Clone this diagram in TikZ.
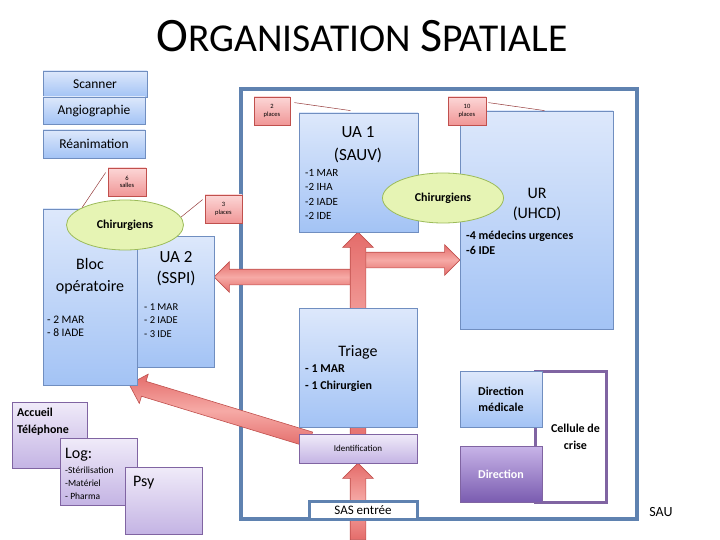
\documentclass[tikz,border=0pt]{standalone}
\usepackage{fontspec}
\setmainfont{Carlito}
\usetikzlibrary{shapes.geometric,shapes.arrows,calc,backgrounds}

\definecolor{boxtop}{RGB}{221,232,251}
\definecolor{boxbot}{RGB}{163,195,245}
\definecolor{boxline}{RGB}{112,142,192}
\definecolor{sauline}{RGB}{95,130,176}
\definecolor{tagtop}{RGB}{252,214,214}
\definecolor{tagbot}{RGB}{240,150,150}
\definecolor{tagline}{RGB}{192,80,77}
\definecolor{tagpointer}{RGB}{150,60,60}
\definecolor{chirfill}{RGB}{230,244,180}
\definecolor{chirline}{RGB}{155,187,89}
\definecolor{lavtop}{RGB}{240,235,249}
\definecolor{lavbot}{RGB}{196,180,228}
\definecolor{lavline}{RGB}{128,100,162}
\definecolor{dirtop}{RGB}{200,180,232}
\definecolor{dirbot}{RGB}{122,92,176}
\definecolor{arrowfill}{RGB}{228,108,106}
\definecolor{arrowlight}{RGB}{246,170,166}
\definecolor{arrowline}{RGB}{192,80,77}

\newcommand{\fsz}[2]{\fontsize{#1}{#2}\selectfont}
% fat arrow from node to node
\newcommand{\fatarrow}[3]{%
  \path let \p1=($(#3)-(#2)$), \n1={atan2(\y1,\x1)}, \n2={veclen(\x1,\y1)} in
    node[fatarrow,anchor=tail,rotate=\n1,minimum height=\n2] (#1) at (#2) {};}

\begin{document}
\begin{tikzpicture}[x=1pt,y=-1pt]
  \tikzstyle{bluebox}=[draw=boxline,top color=boxtop,bottom color=boxbot,line width=0.8pt]
  \tikzstyle{redtag}=[draw=tagline,top color=tagtop,bottom color=tagbot,line width=0.8pt,align=center,inner sep=0pt,font=\fsz{6.5}{7.5}]
  \tikzstyle{chir}=[ellipse,draw=chirline,fill=chirfill,line width=0.8pt,inner sep=0pt,font=\fsz{12}{14}\bfseries]
  \tikzstyle{lavbox}=[draw=lavline,top color=lavtop,bottom color=lavbot,line width=0.8pt]
  \tikzstyle{txt}=[inner sep=0pt,align=left]
  \tikzstyle{fatarrow}=[single arrow,draw=arrowline,top color=arrowfill,bottom color=arrowfill,middle color=arrowlight,inner xsep=0pt,inner ysep=7.5pt,single arrow head extend=7.5pt,line width=0.6pt]
  \useasboundingbox (0,0) rectangle (720,540);

  % title
  \node[inner sep=0pt] (title) at (362,36) {\fsz{48}{48}O\fsz{39.5}{40}RGANISATION \fsz{48}{48}S\fsz{39.5}{40}PATIALE};

  % imagerie, reanimation
  \node[bluebox,minimum width=104,minimum height=26,font=\fsz{13.5}{15}] (scanner) at (95,84) {Scanner};
  \node[bluebox,minimum width=102,minimum height=27,font=\fsz{13.5}{15}] (angio) at (94,110.5) {Angiographie};
  \node[bluebox,minimum width=102,minimum height=28,font=\fsz{13.5}{15}] (reanim) at (94,144) {Réanimation};

  % bloc
  \node[bluebox,minimum width=94,minimum height=176] (bloc) at (90,297) {};
  \node[bluebox,minimum width=77,minimum height=131] (ua2) at (175.5,301.5) {};
  \node[txt,align=center,font=\fsz{16}{22}] (bloctitle) at (90,276) {Bloc\\opératoire};
  \node[txt,anchor=west,font=\fsz{11.5}{13.5}] (bloclist) at (47,326.5) {- 2 MAR\\- 8 IADE};
  \node[txt,align=center,font=\fsz{17}{21}] (ua2title) at (176,268.5) {UA 2\\(SSPI)};
  \node[txt,anchor=west,font=\fsz{10.5}{13.5}] (ua2list) at (144,320.5) {- 1 MAR\\- 2 IADE\\- 3 IDE};
  \node[chir,minimum width=117,minimum height=50] (chirL) at (125,225) {Chirurgiens};
  \node[redtag,minimum width=38,minimum height=28] (tag6) at (127,182) {6\\salles};
  \node[redtag,minimum width=37,minimum height=28] (tag3) at (223.5,209) {3\\places};
  \draw[tagpointer,line width=0.5pt] ($(tag6.north west)+(-2,5)$) -- (chirL.158);
  \draw[tagpointer,line width=0.5pt] ($(tag3.north west)+(-2,5)$) -- (chirL.8);

  % SAU
  \node[inner sep=0pt,font=\fsz{14}{16}] (saulabel) at (661,512) {SAU};
  \node[bluebox,minimum width=119,minimum height=119] (ua1) at (358.5,172.5) {};
  \node[txt,align=center,font=\fsz{17}{23}] (ua1title) at (358,144.5) {UA 1\\(SAUV)};
  \node[txt,anchor=west,font=\fsz{11}{14.5}] (ua1list) at (305,194.5) {-1 MAR\\-2 IHA\\-2 IADE\\-2 IDE};
  \node[bluebox,minimum width=153,minimum height=218] (ur) at (536.5,220) {};
  \node[txt,align=center,font=\fsz{16}{19.5}] (urtitle) at (537,204.5) {UR\\(UHCD)};
  \node[txt,anchor=west,font=\fsz{12}{15}\bfseries] (urlist) at (466,242.5) {-4 médecins urgences\\-6 IDE};
  \node[chir,minimum width=121,minimum height=50] (chirR) at (443,198) {Chirurgiens};
  \node[redtag,minimum width=36,minimum height=28] (tag2) at (272,111) {2\\places};
  \node[redtag,minimum width=38,minimum height=28] (tag10) at (467,111) {10\\places};
  \draw[tagpointer,line width=0.5pt] ($(tag2.north east)+(4,6)$) -- ($(ua1.north)+(-8,-2)$);
  \draw[tagpointer,line width=0.5pt] ($(tag10.north east)+(2,6)$) -- ($(ur.north)+(8,0)$);

  \node[bluebox,minimum width=118,minimum height=119] (triage) at (358,367.5) {};
  \node[txt,font=\fsz{16}{18}] (triagetitle) at (358,352) {Triage};
  \node[txt,anchor=west,font=\fsz{12}{17}\bfseries] (triagelist) at (305,378.5) {- 1 MAR\\- 1 Chirurgien};
  \node[lavbox,minimum width=118,minimum height=29,font=\fsz{9}{10}] (ident) at (358,448.5) {Identification};
  \node[draw=sauline,fill=white,line width=3pt,minimum width=108,minimum height=18,inner sep=0pt,font=\fsz{13}{14}] (sas) at (363,510) {SAS entrée};

  % cellule de crise
  \node[draw=lavline,line width=3pt,minimum width=71,minimum height=131,align=center,font=\fsz{12}{17}\bfseries] (cellule) at (570.5,436.5) {\hspace*{10pt}Cellule de\\\hspace*{10pt}crise};
  \node[bluebox,minimum width=82,minimum height=56,align=center,font=\fsz{12}{16}\bfseries] (dirmed) at (501,399) {Direction\\médicale};
  \node[draw=lavline,top color=dirtop,bottom color=dirbot,line width=0.8pt,minimum width=82,minimum height=56,text=white,font=\fsz{12}{14}\bfseries] (dir) at (501,474) {Direction};

  % accueil, logistique
  \node[lavbox,minimum width=75,minimum height=66] (accueil) at (49.5,435) {};
  \node[txt,anchor=west,font=\fsz{12}{17}\bfseries] (accueiltext) at (17,421.5) {Accueil\\Téléphone};
  \node[lavbox,minimum width=77,minimum height=67] (log) at (98.5,471.5) {};
  \node[txt,anchor=west,font=\fsz{16}{18}] (logtitle) at (65,455) {Log:};
  \node[txt,anchor=west,font=\fsz{9.5}{13}] (loglist) at (65,483) {-Stérilisation\\-Matériel\\- Pharma};
  \node[lavbox,minimum width=77,minimum height=67] (psy) at (163.5,500.5) {};
  \node[txt,anchor=west,font=\fsz{16}{18}] (psytext) at (133,483) {Psy};

  \begin{pgfonlayer}{background}
    \node[draw=sauline,line width=3.5pt,minimum width=396,minimum height=430] (sau) at (439,304) {};
    \coordinate (entry) at (358,540);
    \coordinate (jl) at (358,277);
    \coordinate (jr) at (358,260);
    \coordinate (diagstart) at ($(ident.north west)+(12,6)$);
    \coordinate (diagend) at ($(bloc.south east)+(-8,-1)$);
    \fatarrow{toua2}{jl}{jl -| ua2.east}
    \fatarrow{tour}{jr}{jr -| ur.west}
    \fatarrow{tobloc}{diagstart}{diagend}
    \fatarrow{toident}{entry}{ident.south}
    \fatarrow{toua1}{ident.center}{triage.north |- ua1.south}
  \end{pgfonlayer}
\end{tikzpicture}
\end{document}
